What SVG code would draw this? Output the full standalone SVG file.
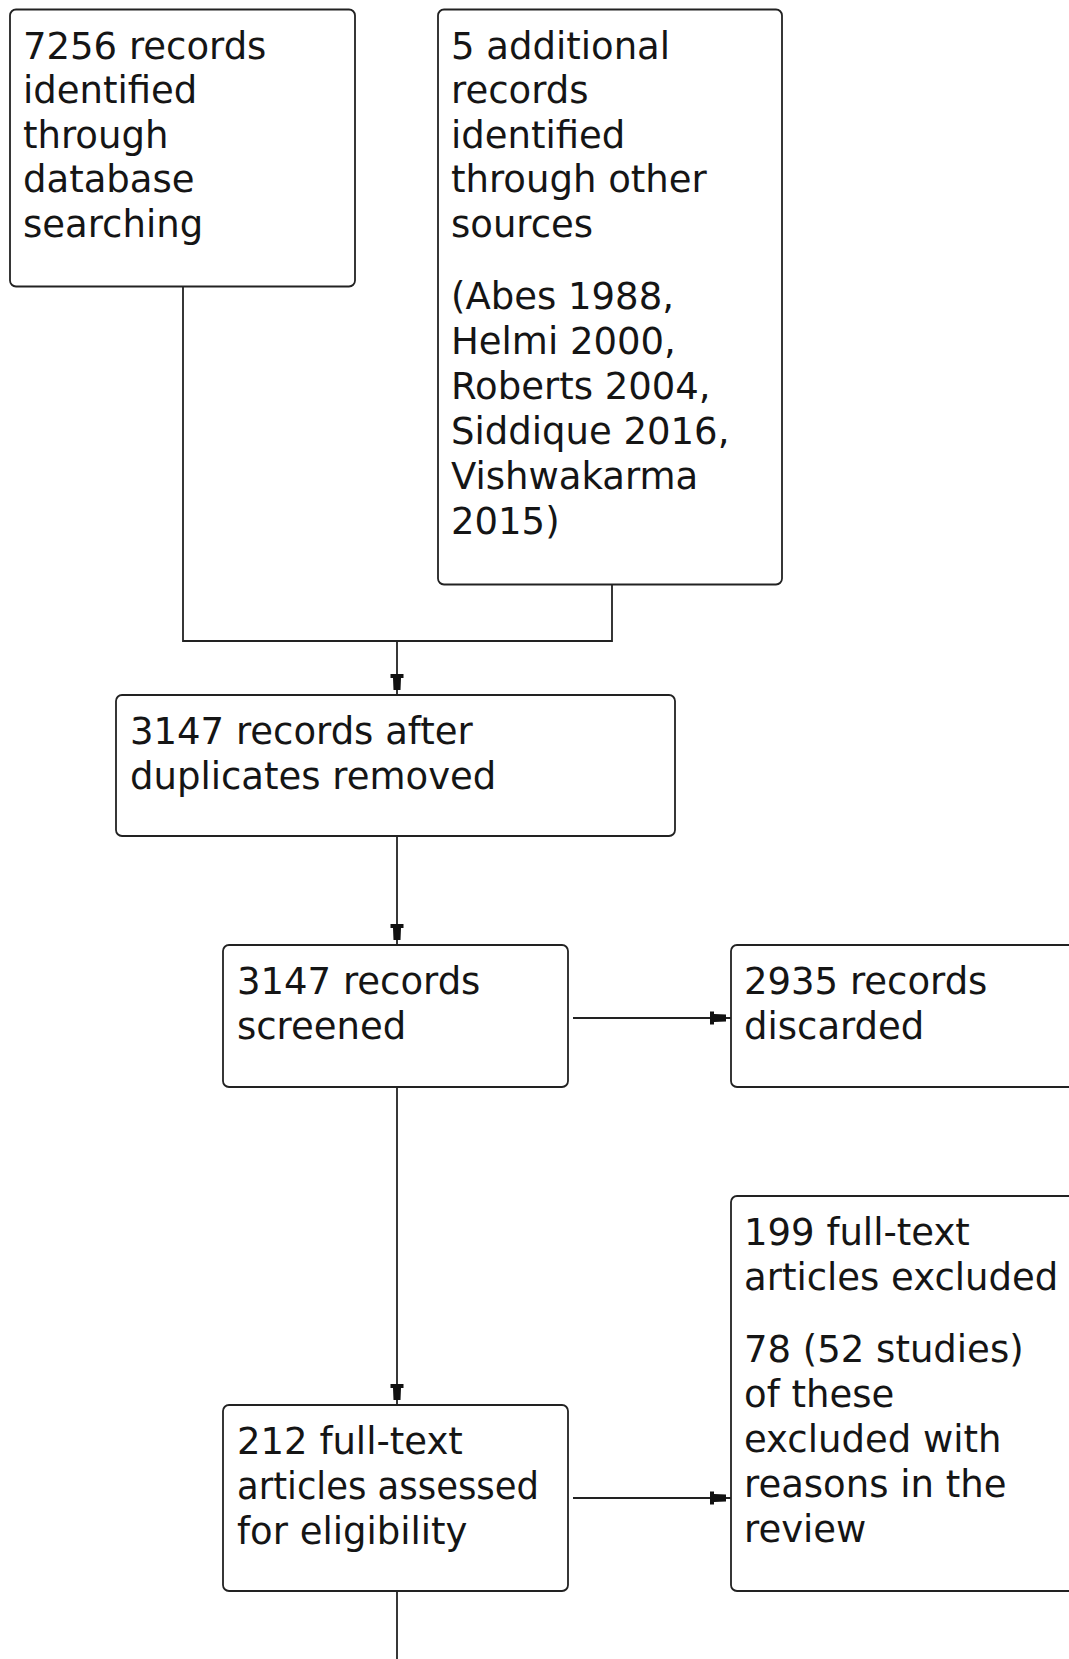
<svg xmlns="http://www.w3.org/2000/svg" width="1069" height="1659" viewBox="0 0 1069 1659">
<style>
.box{fill:#fff;stroke:#222;stroke-width:1.8}
.t{font-family:"DejaVu Sans","Open Sans",sans-serif;font-size:37px;fill:#151515}
.c{fill:none;stroke:#222;stroke-width:1.8}
</style>
<defs>
<marker id="ah" markerUnits="userSpaceOnUse" viewBox="0 0 22 14" markerWidth="22" markerHeight="14" refX="21" refY="7" orient="auto">
<path d="M0,0.5 L4,0.5 L4,3 L16,3.5 L16,10.5 L4,11 L4,13.5 L0,13.5 Z" fill="#111"/>
</marker>
</defs>
<rect width="1069" height="1659" fill="#fff"/>
<g id="connectors">
<path class="c" d="M183,287 V641 H612 V585"/>
<path class="c" d="M397,641 V695" marker-end="url(#ah)"/>
<path class="c" d="M397,836 V945" marker-end="url(#ah)"/>
<path class="c" d="M573,1018 H731" marker-end="url(#ah)"/>
<path class="c" d="M397,1087 V1405" marker-end="url(#ah)"/>
<path class="c" d="M573,1498 H731" marker-end="url(#ah)"/>
<path class="c" d="M397,1591 V1659"/>
</g>
<g id="n1">
<rect class="box" x="10" y="9.5" width="345" height="277" rx="6"/>
<text class="t"><tspan x="23" y="58.5">7256 records</tspan><tspan x="23" y="103">identified</tspan><tspan x="23" y="147.5">through</tspan><tspan x="23" y="192">database</tspan><tspan x="23" y="236.5">searching</tspan></text>
</g>
<g id="n2">
<rect class="box" x="438" y="9.5" width="344" height="575" rx="6"/>
<text class="t"><tspan x="451" y="58.5">5 additional</tspan><tspan x="451" y="103">records</tspan><tspan x="451" y="147.5">identified</tspan><tspan x="451" y="192">through other</tspan><tspan x="451" y="236.5">sources</tspan><tspan x="451" y="309">(Abes 1988,</tspan><tspan x="451" y="354">Helmi 2000,</tspan><tspan x="451" y="399">Roberts 2004,</tspan><tspan x="451" y="444">Siddique 2016,</tspan><tspan x="451" y="489">Vishwakarma</tspan><tspan x="451" y="534">2015)</tspan></text>
</g>
<g id="n3">
<rect class="box" x="116" y="695" width="559" height="141" rx="6"/>
<text class="t"><tspan x="130" y="744">3147 records after</tspan><tspan x="130" y="789">duplicates removed</tspan></text>
</g>
<g id="n4">
<rect class="box" x="223" y="945" width="345" height="142" rx="6"/>
<text class="t"><tspan x="237" y="994">3147 records</tspan><tspan x="237" y="1039">screened</tspan></text>
</g>
<g id="n5">
<rect class="box" x="731" y="945" width="380" height="142" rx="6"/>
<text class="t"><tspan x="744" y="994">2935 records</tspan><tspan x="744" y="1039">discarded</tspan></text>
</g>
<g id="n6">
<rect class="box" x="223" y="1405" width="345" height="186" rx="6"/>
<text class="t" x="237" y="1454">212 full-text</text>
<text class="t" x="237" y="1499" textLength="302" lengthAdjust="spacingAndGlyphs">articles assessed</text>
<text class="t" x="237" y="1544">for eligibility</text>
</g>
<g id="n7">
<rect class="box" x="731" y="1196" width="380" height="395" rx="6"/>
<text class="t"><tspan x="744" y="1245">199 full-text</tspan><tspan x="744" y="1290">articles excluded</tspan><tspan x="744" y="1362">78 (52 studies)</tspan><tspan x="744" y="1407">of these</tspan><tspan x="744" y="1452">excluded with</tspan><tspan x="744" y="1497">reasons in the</tspan><tspan x="744" y="1542">review</tspan></text>
</g>
</svg>
